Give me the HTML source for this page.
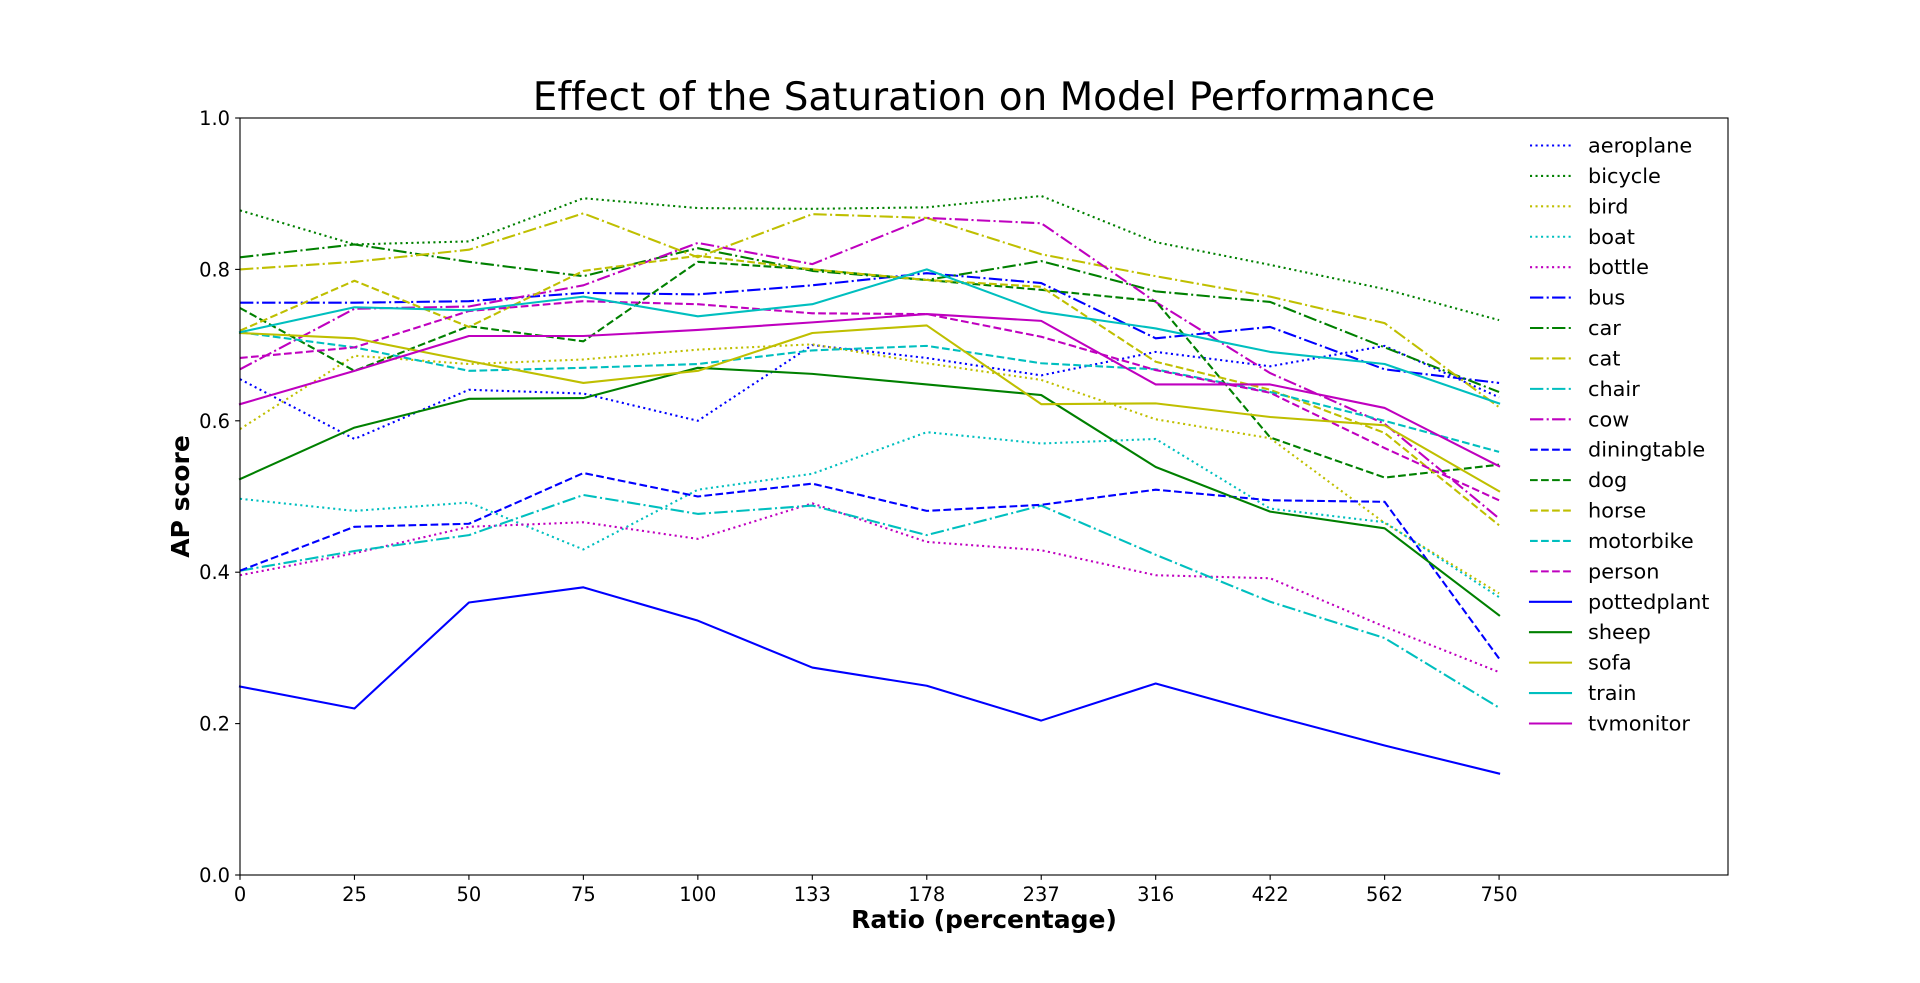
<!DOCTYPE html>
<html lang="en">
<head>
<meta charset="utf-8">
<title>Effect of the Saturation on Model Performance</title>
<style>
html,body{margin:0;padding:0;background:#fff;width:1920px;height:983px;overflow:hidden}
svg{display:block}
text{font-family:"DejaVu Sans","Liberation Sans",sans-serif;fill:#000;font-variant-ligatures:none}
</style>
</head>
<body>
<svg id="chart" xmlns="http://www.w3.org/2000/svg" width="1920" height="983" viewBox="0 0 1920 983">
  <rect x="0" y="0" width="1920" height="983" fill="#fff"/>
  <text x="984" y="110" font-size="38.9" text-anchor="middle">Effect of the Saturation on Model Performance</text>
  <text x="984" y="928" font-size="25" font-weight="bold" text-anchor="middle">Ratio (percentage)</text>
  <text transform="translate(189,496.5) rotate(-90)" font-size="25" font-weight="bold" text-anchor="middle">AP score</text>
  <g id="series"></g>
  <g id="axes"></g>
  <g id="legend"></g>
</svg>
<script>
const xLabels = ['0','25','50','75','100','133','178','237','316','422','562','750'];
const yTicks = [0, 0.2, 0.4, 0.6, 0.8, 1.0];
const seriesNames = ['aeroplane','bicycle','bird','boat','bottle','bus','car','cat','chair','cow','diningtable','dog','horse','motorbike','person','pottedplant','sheep','sofa','train','tvmonitor'];
const aeroplane = [0.655,0.576,0.641,0.636,0.600,0.700,0.683,0.660,0.691,0.672,0.699,0.631];
const bicycle = [0.878,0.833,0.837,0.894,0.881,0.880,0.882,0.897,0.836,0.806,0.774,0.733];
const bird = [0.589,0.686,0.675,0.681,0.694,0.701,0.676,0.654,0.602,0.577,0.465,0.372];
const boat = [0.497,0.481,0.492,0.430,0.509,0.530,0.585,0.570,0.576,0.484,0.466,0.367];
const bottle = [0.396,0.425,0.460,0.466,0.444,0.491,0.440,0.429,0.396,0.392,0.328,0.268];
const bus = [0.756,0.756,0.758,0.769,0.767,0.779,0.795,0.782,0.709,0.724,0.668,0.650];
const car = [0.816,0.833,0.810,0.791,0.828,0.798,0.786,0.811,0.771,0.757,0.697,0.638];
const cat = [0.800,0.810,0.826,0.874,0.816,0.873,0.868,0.820,0.791,0.764,0.729,0.618];
const chair = [0.402,0.428,0.449,0.502,0.477,0.488,0.449,0.488,0.423,0.361,0.313,0.221];
const cow = [0.668,0.748,0.751,0.779,0.835,0.807,0.868,0.861,0.757,0.663,0.596,0.471];
const diningtable = [0.402,0.460,0.464,0.531,0.500,0.517,0.481,0.489,0.509,0.495,0.493,0.286];
const dog = [0.749,0.666,0.725,0.705,0.810,0.800,0.786,0.773,0.758,0.578,0.525,0.542];
const horse = [0.719,0.785,0.724,0.798,0.818,0.800,0.786,0.777,0.678,0.641,0.584,0.462];
const motorbike = [0.717,0.697,0.666,0.670,0.675,0.693,0.699,0.676,0.668,0.638,0.600,0.559];
const person = [0.683,0.697,0.745,0.758,0.754,0.742,0.741,0.711,0.667,0.637,0.564,0.495];
const pottedplant = [0.249,0.220,0.360,0.380,0.336,0.274,0.250,0.204,0.253,0.211,0.171,0.134];
const sheep = [0.523,0.591,0.629,0.630,0.670,0.662,0.648,0.634,0.539,0.480,0.458,0.343];
const sofa = [0.716,0.709,0.679,0.650,0.666,0.716,0.726,0.622,0.623,0.605,0.594,0.507];
const train = [0.717,0.750,0.746,0.764,0.738,0.754,0.800,0.744,0.722,0.691,0.675,0.623];
const tvmonitor = [0.622,0.666,0.712,0.712,0.720,0.730,0.741,0.732,0.648,0.648,0.617,0.540];
const seriesValues = [aeroplane,bicycle,bird,boat,bottle,bus,car,cat,chair,cow,diningtable,dog,horse,motorbike,person,pottedplant,sheep,sofa,train,tvmonitor];

const NS = 'http://www.w3.org/2000/svg';
const plot = {left:240, right:1728, top:118, bottom:875};
const xMax = 13;
const colors = ['#0000ff','#008000','#bfbf00','#00bfbf','#bf00bf'];
const dashStyles = ['2.08 3.43','13.33 3.33 2.08 3.33','7.71 3.33',''];
const xScale = i => plot.left + (plot.right - plot.left) * i / xMax;
const yScale = v => plot.bottom - (plot.bottom - plot.top) * v;
const legendRowY = i => 145.5 + i * 30.42;

function styleLine(el, i) {
  const dash = dashStyles[Math.floor(i / 5)];
  el.setAttribute('fill', 'none');
  el.setAttribute('stroke', colors[i % 5]);
  el.setAttribute('stroke-width', '2.08');
  el.setAttribute('stroke-linejoin', 'round');
  if (dash) {
    el.setAttribute('stroke-dasharray', dash);
    el.setAttribute('stroke-linecap', 'butt');
  } else {
    el.setAttribute('stroke-linecap', 'square');
  }
}

const seriesGroup = document.getElementById('series');
seriesValues.forEach((values, i) => {
  const line = document.createElementNS(NS, 'polyline');
  
  
  line.setAttribute('points', values.map((v, k) => xScale(k).toFixed(2) + ',' + yScale(v).toFixed(2)).join(' '));
  styleLine(line, i);
  seriesGroup.appendChild(line);
});

const axes = document.getElementById('axes');
const frame = document.createElementNS(NS, 'rect');


frame.setAttribute('x', plot.left);
frame.setAttribute('y', plot.top);
frame.setAttribute('width', plot.right - plot.left);
frame.setAttribute('height', plot.bottom - plot.top);
frame.setAttribute('fill', 'none');
frame.setAttribute('stroke', '#000');
frame.setAttribute('stroke-width', '1.11');
axes.appendChild(frame);

xLabels.forEach((label, i) => {
  const tick = document.createElementNS(NS, 'line');
  
  
  tick.setAttribute('x1', xScale(i));
  tick.setAttribute('x2', xScale(i));
  tick.setAttribute('y1', plot.bottom);
  tick.setAttribute('y2', plot.bottom + 4.86);
  tick.setAttribute('stroke', '#000');
  tick.setAttribute('stroke-width', '1.11');
  axes.appendChild(tick);
  const text = document.createElementNS(NS, 'text');
  
  
  text.setAttribute('x', xScale(i));
  text.setAttribute('y', 901);
  text.setAttribute('font-size', '19.44');
  text.setAttribute('text-anchor', 'middle');
  text.textContent = label;
  axes.appendChild(text);
});

yTicks.forEach(v => {
  const label = v.toFixed(1);
  const tick = document.createElementNS(NS, 'line');
  
  
  tick.setAttribute('x1', plot.left - 4.86);
  tick.setAttribute('x2', plot.left);
  tick.setAttribute('y1', yScale(v));
  tick.setAttribute('y2', yScale(v));
  tick.setAttribute('stroke', '#000');
  tick.setAttribute('stroke-width', '1.11');
  axes.appendChild(tick);
  const text = document.createElementNS(NS, 'text');
  
  
  text.setAttribute('x', plot.left - 10);
  text.setAttribute('y', yScale(v) + 7);
  text.setAttribute('font-size', '19.44');
  text.setAttribute('text-anchor', 'end');
  text.textContent = label;
  axes.appendChild(text);
});

const legend = document.getElementById('legend');
seriesNames.forEach((name, i) => {
  const entry = document.createElementNS(NS, 'g');
  
  
  const handle = document.createElementNS(NS, 'line');
  
  
  handle.setAttribute('x1', 1530);
  handle.setAttribute('x2', 1571);
  handle.setAttribute('y1', legendRowY(i));
  handle.setAttribute('y2', legendRowY(i));
  styleLine(handle, i);
  entry.appendChild(handle);
  const text = document.createElementNS(NS, 'text');
  
  
  text.setAttribute('x', 1588);
  text.setAttribute('y', legendRowY(i) + 7);
  text.setAttribute('font-size', '20.83');
  text.textContent = name;
  entry.appendChild(text);
  legend.appendChild(entry);
});
</script>
</body>
</html>
